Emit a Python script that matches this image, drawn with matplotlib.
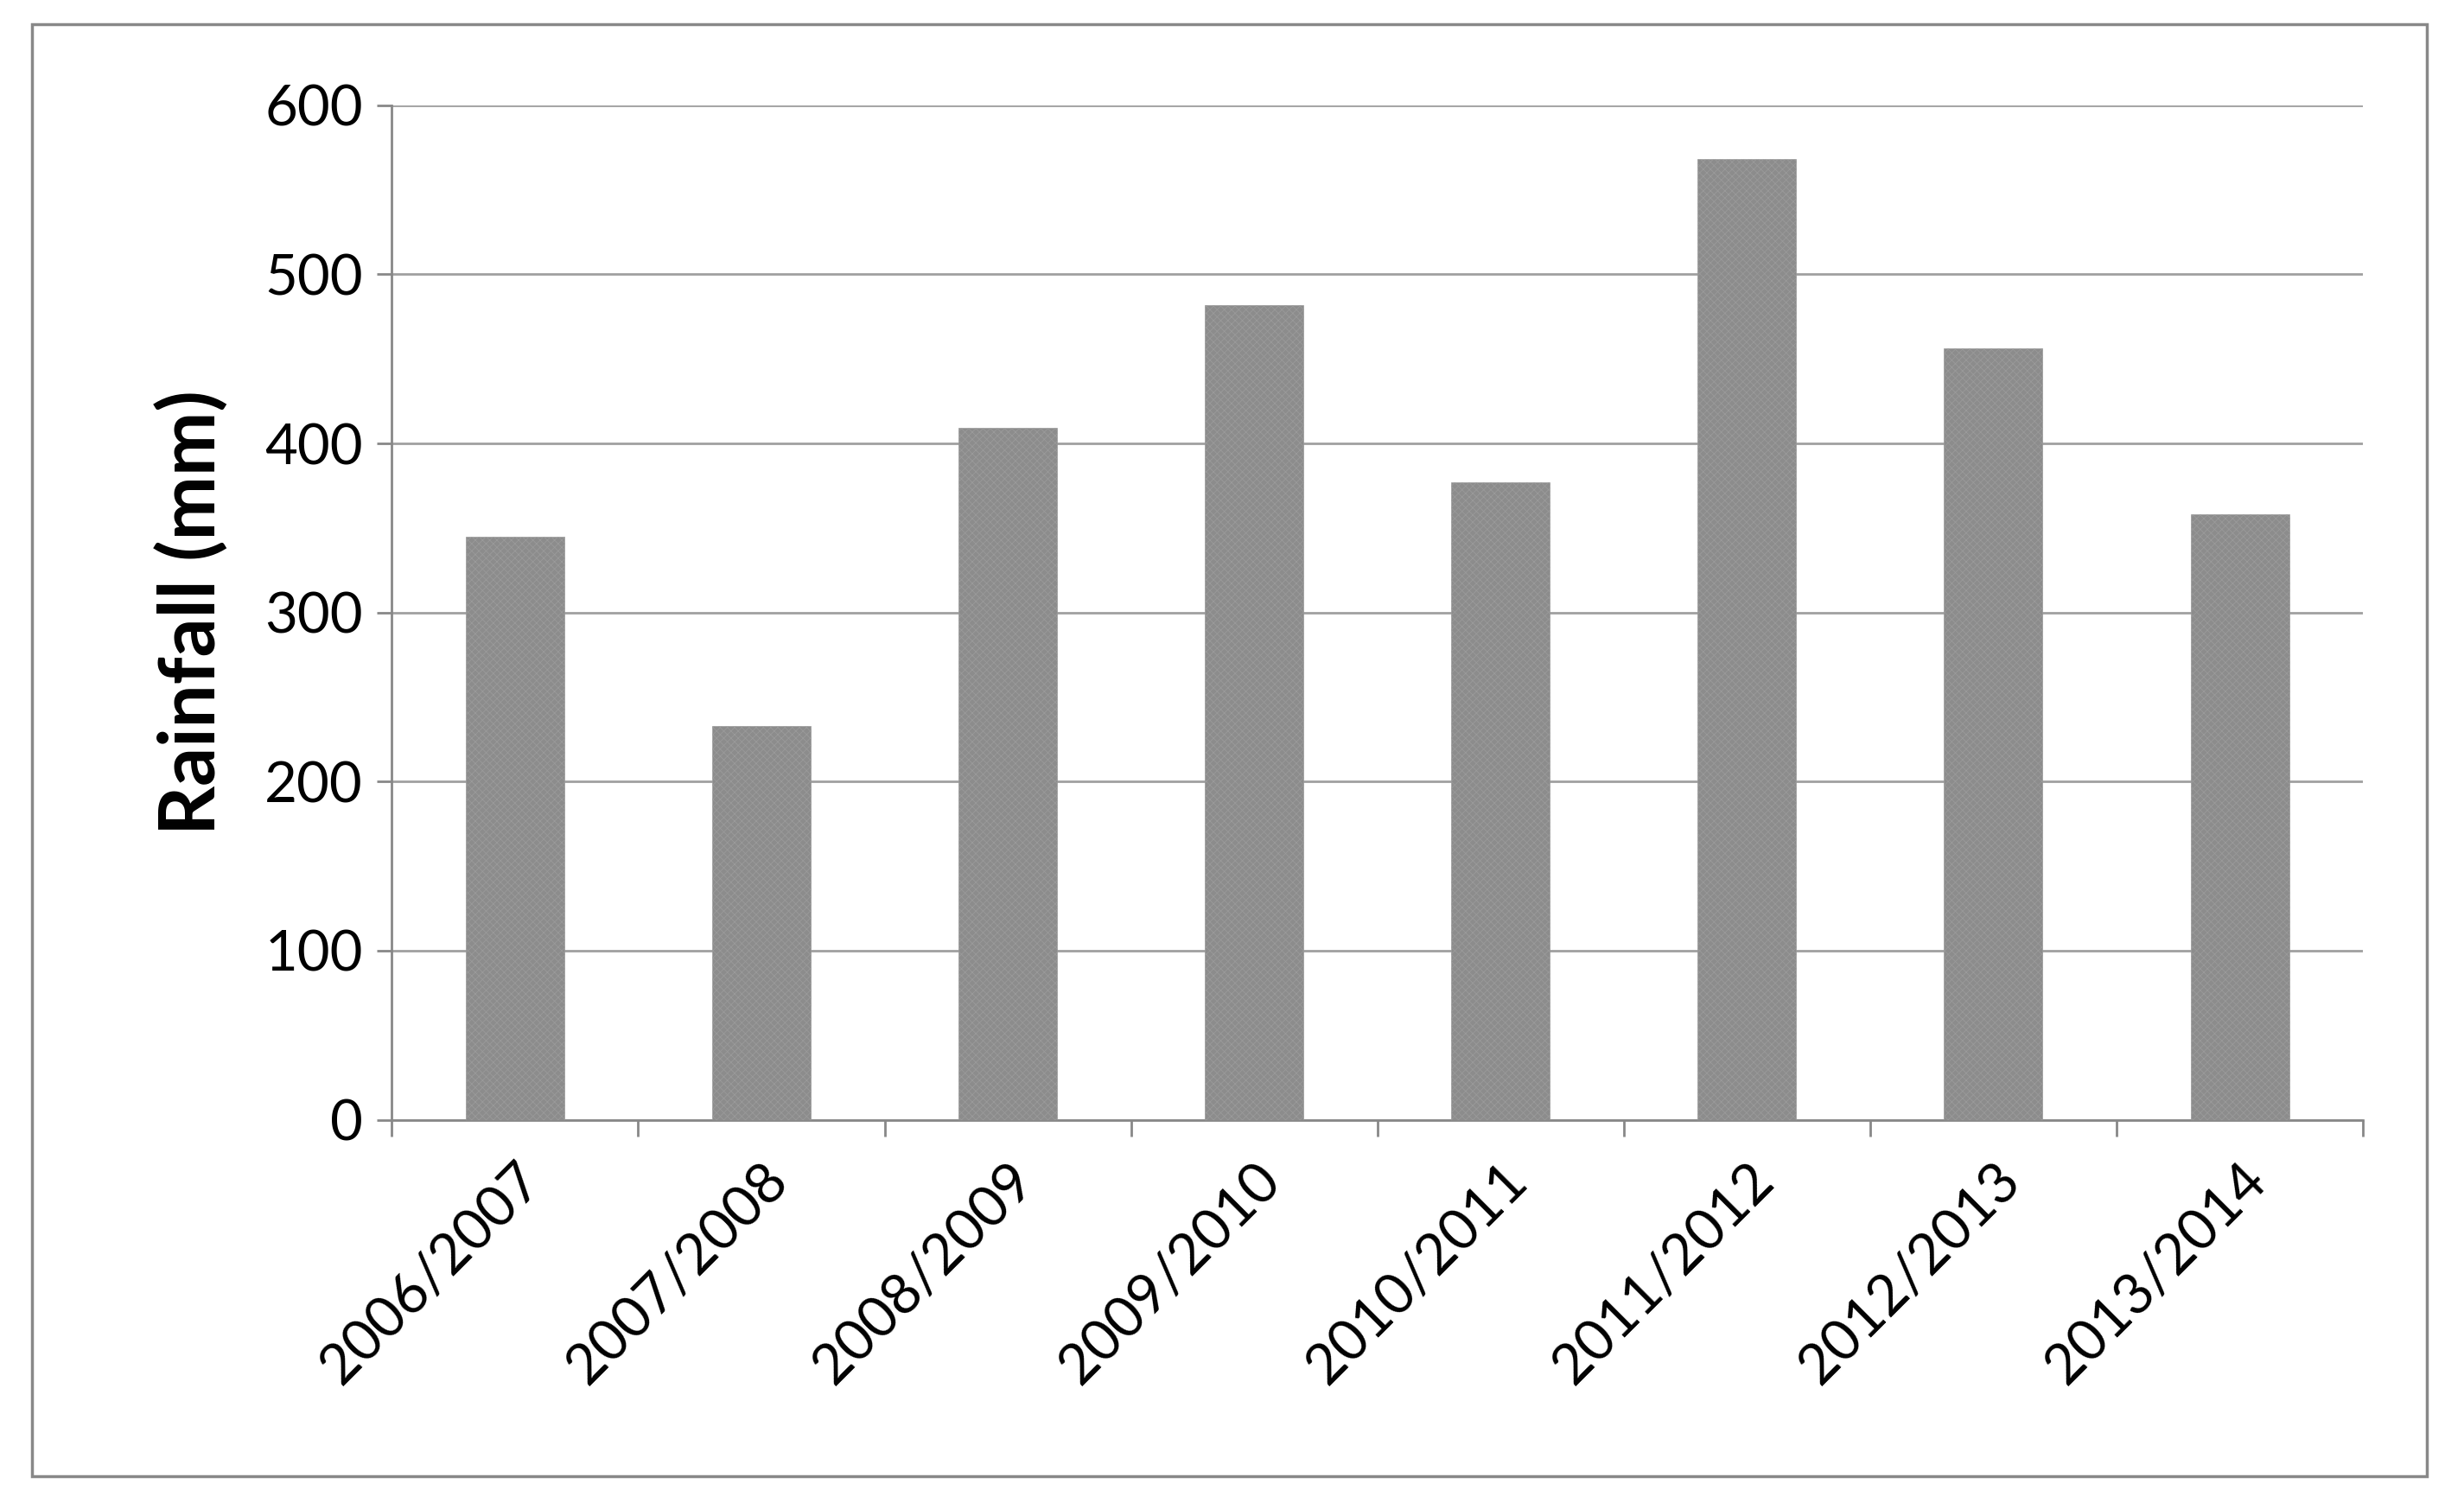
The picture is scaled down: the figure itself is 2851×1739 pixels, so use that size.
import matplotlib
matplotlib.use("Agg")
import matplotlib.pyplot as plt
from matplotlib.patches import Rectangle
import numpy as np

categories = ["2006/2007","2007/2008","2008/2009","2009/2010","2010/2011","2011/2012","2012/2013","2013/2014"]
rainfall = [345, 233, 409, 482, 377, 568, 456, 358]
yticks = [0,100,200,300,400,500,600]

plt.rcParams['font.family'] = ['Lato', 'DejaVu Sans']
plt.rcParams['hatch.color'] = '#5a5a5a'
plt.rcParams['hatch.linewidth'] = 0.6
fig = plt.figure(figsize=(28.51,17.39), dpi=100)
fig.patches.append(Rectangle((0.013,0.018),0.972,0.966, transform=fig.transFigure,
                             fill=False, edgecolor='#888888', linewidth=2.5))
ax = fig.add_axes([0.159,0.255,0.800,0.675])
x = np.arange(len(categories))
ax.bar(x, rainfall, width=0.4, color='#8c8c8c', edgecolor='#9a9a9a', hatch='xxxx', linewidth=0.5, zorder=3)
ax.set_xlim(-0.5, len(categories)-0.5)
ax.set_ylim(0,600)
ax.set_yticks(yticks)
ax.tick_params(axis='y', labelsize=47, length=12, color='#888888', width=2, pad=12)
ax.set_xticks(x)
ax.set_xticklabels(categories, rotation=45, ha='right', rotation_mode='anchor', fontsize=47)
ax.set_xticks(np.arange(-0.5, len(categories)), minor=True)
ax.tick_params(axis='x', which='major', length=0, pad=28)
ax.tick_params(axis='x', which='minor', length=14, color='#888888', width=2)
ax.grid(axis='y', color='#a0a0a0', linewidth=2, zorder=0)
for s in ['top','right']:
    ax.spines[s].set_visible(False)
for s in ['left','bottom']:
    ax.spines[s].set_color('#888888'); ax.spines[s].set_linewidth(2)
ax.set_ylabel("Rainfall (mm)", fontsize=64, fontweight='bold', labelpad=30)
fig.savefig("out.png", dpi=100)
